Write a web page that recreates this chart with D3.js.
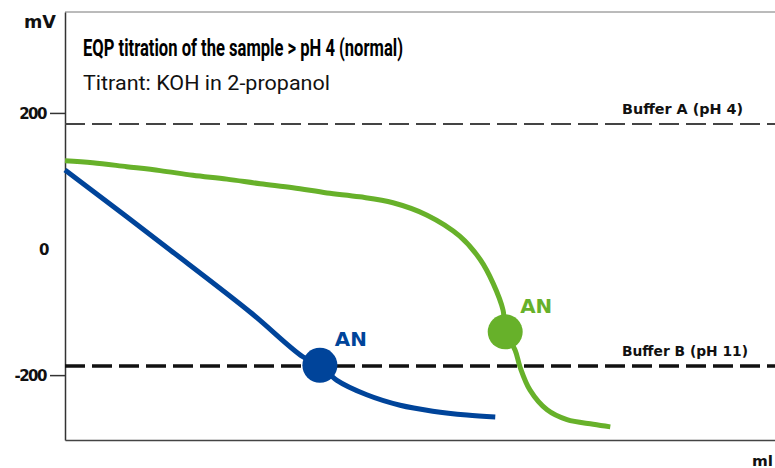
<!DOCTYPE html>
<html>
<head>
<meta charset="utf-8">
<script src="https://cdn.jsdelivr.net/npm/d3@7"></script>
<style>
  body { margin: 0; background: #fff; }
  svg { display: block; }
</style>
</head>
<body>
<script>
// data (x in mL, y in mV)
const greenX = [0, 0.39, 0.87, 1.34, 1.80, 2.28, 2.75, 3.21, 3.69, 4.15, 4.62, 5.10, 5.56, 5.85, 6.03, 6.17, 6.20, 6.34, 6.41, 6.55, 6.79, 7.07, 7.44, 7.68];
const greenY = [127, 124, 118, 112, 105, 99, 92, 86, 78, 72, 63, 44, 12, -24, -60, -101, -134, -162, -188, -223, -253, -268, -275, -279];
const blueX = [0, 1.48, 2.61, 3.35, 3.59, 3.83, 4.25, 4.72, 5.18, 5.66, 6.06];
const blueY = [113, -9, -104, -172, -185, -208, -230, -246, -255, -261, -264];
const endpoints = [
  {x: 3.59, y: -185, label: "AN", color: "#00449a"},
  {x: 6.20, y: -134, label: "AN", color: "#67b12a"}
];
const buffers = [
  {y: 183, label: "Buffer A (pH 4)"},
  {y: -186, label: "Buffer B (pH 11)"}
];
const yTicks = [200, 0, -200];

const W = 775, H = 468;
const svg = d3.select("body").append("svg")
    .attr("width", W)
    .attr("height", H);

const x = d3.scaleLinear().domain([0, 10]).range([65, 775]);
const y = d3.scaleLinear().domain([-299, 354]).range([440, 12]);

// frame top line
svg.append("line")
    .attr("x1", x(0)).attr("x2", x(10))
    .attr("y1", y(354)).attr("y2", y(354))
    .attr("stroke", "#777").attr("stroke-width", 1);

// y axis
const yAxis = svg.append("g")
    .attr("transform", "translate(" + x(0) + ",0)")
    .call(d3.axisLeft(y).tickValues(yTicks).tickSize(15).tickSizeOuter(0).tickFormat(d => String(d)));
yAxis.select(".domain").attr("stroke", "#333").attr("stroke-width", 1.5);
yAxis.selectAll(".tick line").attr("stroke", "#333").attr("stroke-width", 1.5)
    .attr("display", d => d === 0 ? "none" : null);
yAxis.selectAll(".tick text")
    .attr("x", d => d === 0 ? -17 : -19)
    .attr("dy", d => d === 0 ? "0.7em" : "0.35em")
    .attr("font-family", "DejaVu Sans")
    .attr("font-weight", "bold")
    .attr("font-size", 15)
    .attr("letter-spacing", -1.5)
    .attr("fill", "#111");

// x axis
const xAxis = svg.append("g")
    .attr("transform", "translate(0," + y(-299) + ")")
    .call(d3.axisBottom(x).tickValues([]).tickSizeOuter(0));
xAxis.select(".domain").attr("stroke", "#444").attr("stroke-width", 1.5);

// unit labels
svg.append("text")
    .attr("x", 24).attr("y", 28)
    .attr("font-family", "DejaVu Sans").attr("font-weight", "bold").attr("font-size", 18)
    .attr("textLength", 32).attr("lengthAdjust", "spacingAndGlyphs")
    .attr("fill", "#111")
    .text("mV");
svg.append("text")
    .attr("x", 752).attr("y", 466)
    .attr("font-family", "DejaVu Sans").attr("font-weight", "bold").attr("font-size", 14)
    .attr("textLength", 21).attr("lengthAdjust", "spacingAndGlyphs")
    .attr("fill", "#111")
    .text("ml");

// title
svg.append("text")
    .attr("x", 83).attr("y", 56)
    .attr("font-family", "Roboto").attr("font-weight", "bold").attr("font-size", 24)
    .attr("textLength", 320).attr("lengthAdjust", "spacingAndGlyphs")
    .attr("fill", "#000")
    .text("EQP titration of the sample > pH 4 (normal)");
svg.append("text")
    .attr("x", 83).attr("y", 90)
    .attr("font-family", "Roboto").attr("font-size", 21)
    .attr("textLength", 247).attr("lengthAdjust", "spacingAndGlyphs")
    .attr("fill", "#111")
    .text("Titrant: KOH in 2-propanol");

// buffer lines
svg.selectAll(".buffer")
    .data(buffers)
    .join("line")
    .attr("class", "buffer")
    .attr("x1", x(0)).attr("x2", x(10))
    .attr("y1", d => y(d.y)).attr("y2", d => y(d.y))
    .attr("stroke", (d, i) => i === 0 ? "#444" : "#111")
    .attr("stroke-width", (d, i) => i === 0 ? 2 : 3.5)
    .attr("stroke-dasharray", "20,7");

svg.selectAll(".buffer-label")
    .data(buffers)
    .join("text")
    .attr("class", "buffer-label")
    .attr("x", 622)
    .attr("y", d => y(d.y) - 10)
    .attr("font-family", "DejaVu Sans").attr("font-weight", "bold").attr("font-size", 14)
    .attr("textLength", (d, i) => i === 0 ? 121 : 126).attr("lengthAdjust", "spacingAndGlyphs")
    .attr("fill", "#111")
    .text(d => d.label);

// curves
const line = d3.line()
    .x(d => x(d[0]))
    .y(d => y(d[1]))
    .curve(d3.curveCatmullRom);

svg.append("path")
    .datum(greenX.map((v, i) => [v, greenY[i]]))
    .attr("d", line)
    .attr("fill", "none")
    .attr("stroke", "#67b12a")
    .attr("stroke-width", 5);

svg.append("path")
    .datum(blueX.map((v, i) => [v, blueY[i]]))
    .attr("d", line)
    .attr("fill", "none")
    .attr("stroke", "#00449a")
    .attr("stroke-width", 5);

// endpoint markers
svg.selectAll(".ep")
    .data(endpoints)
    .join("circle")
    .attr("class", "ep")
    .attr("cx", d => x(d.x))
    .attr("cy", d => y(d.y))
    .attr("r", 17.5)
    .attr("fill", d => d.color);

svg.selectAll(".ep-label")
    .data(endpoints)
    .join("text")
    .attr("class", "ep-label")
    .attr("x", d => x(d.x) + 15)
    .attr("y", d => y(d.y) - 19)
    .attr("font-family", "DejaVu Sans").attr("font-weight", "bold").attr("font-size", 19)
    .attr("textLength", 32).attr("lengthAdjust", "spacingAndGlyphs")
    .attr("fill", d => d.color)
    .text(d => d.label);
</script>
</body>
</html>
